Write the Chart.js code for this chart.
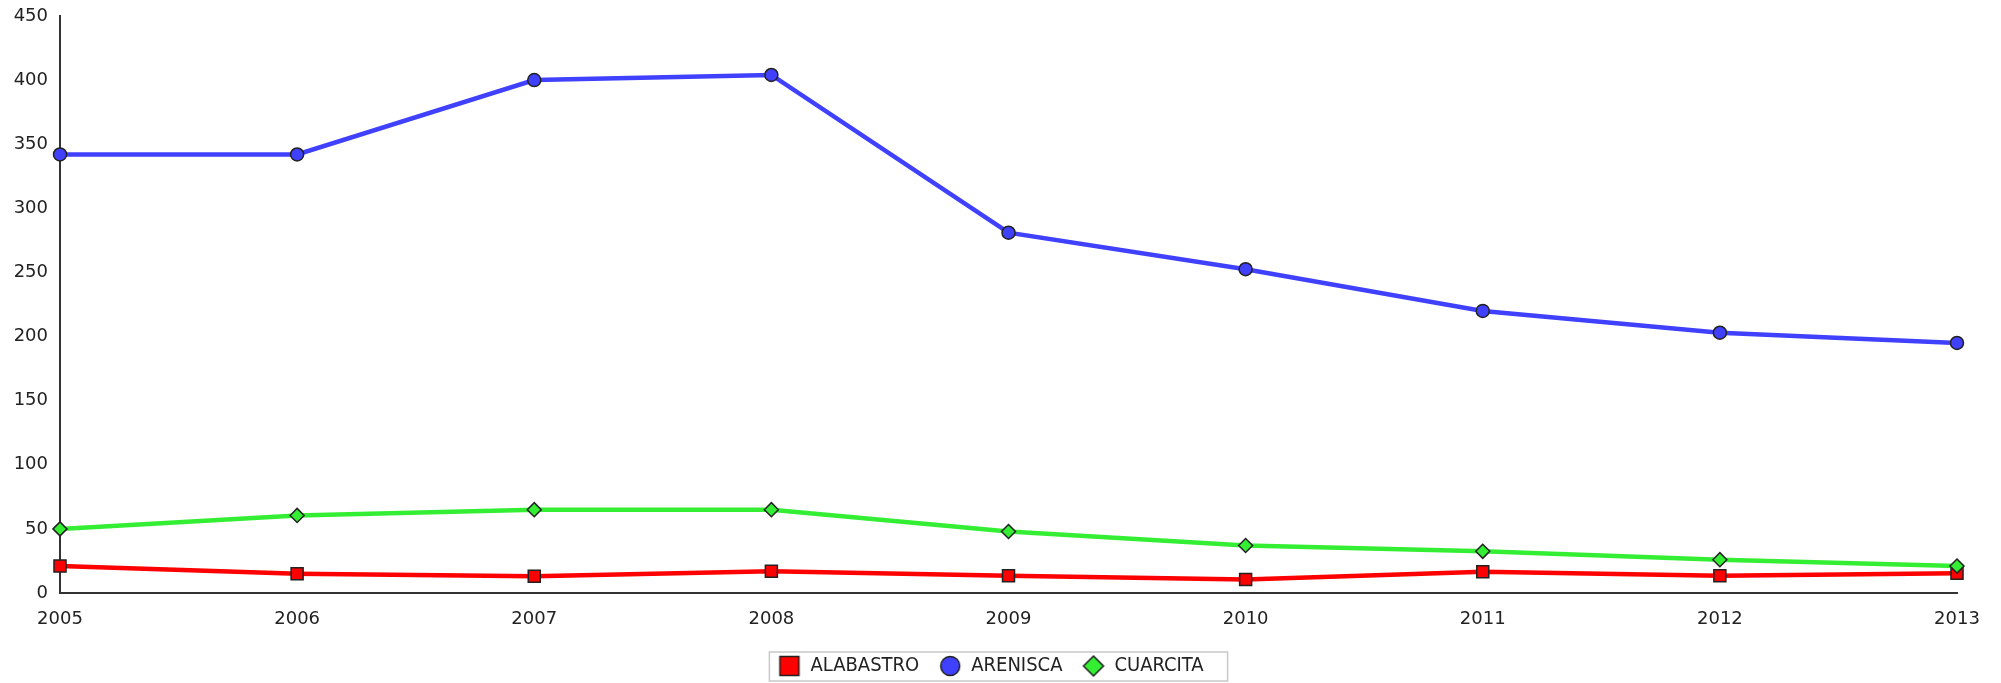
<!DOCTYPE html>
<html>
<head>
<meta charset="utf-8">
<script src="https://cdn.jsdelivr.net/npm/chart.js@4.4.0/dist/chart.umd.min.js"></script>
<style>
  html, body { margin: 0; padding: 0; background: #fff; }
  #wrap { width: 2001px; height: 683px; }
</style>
</head>
<body>
<div id="wrap"><canvas id="chart" width="2001" height="683"></canvas></div>
<script>
const years = ['2005', '2006', '2007', '2008', '2009', '2010', '2011', '2012', '2013'];
const alabastro = [21, 15, 13, 17, 13.5, 10.5, 16.5, 13.5, 15.5];
const arenisca = [342, 342, 400, 404, 281, 252.5, 220, 203, 195];
const cuarcita = [50, 60.5, 65, 65, 48, 37, 32.5, 26, 21];
const yMin = 0, yMax = 450, yStep = 50;

const RED = '#ff0000', BLUE = '#4040ff', GREEN = '#33ee33', EDGE = '#222';

// little canvases used as legend markers (bigger than the ones on the lines)
function marker(kind, fill) {
    const c = document.createElement('canvas');
    c.width = 24; c.height = 24;
    const g = c.getContext('2d');
    g.fillStyle = fill;
    g.strokeStyle = EDGE;
    g.lineWidth = 1.5;
    g.beginPath();
    if (kind === 'rect') g.rect(2.5, 2.5, 19, 19);
    else if (kind === 'circle') g.arc(12, 12, 9.5, 0, Math.PI * 2);
    else { g.moveTo(12, 2); g.lineTo(22, 12); g.lineTo(12, 22); g.lineTo(2, 12); g.closePath(); }
    g.fill();
    g.stroke();
    return c;
}
const legendMarkers = [marker('rect', RED), marker('circle', BLUE), marker('diamond', GREEN)];

const legendBorder = {
    id: 'legendBorder',
    afterDraw(chart) {
        const boxes = chart.legend && chart.legend.legendHitBoxes;
        if (!boxes || !boxes.length) return;
        const first = boxes[0], last = boxes[boxes.length - 1];
        const ctx = chart.ctx;
        ctx.save();
        ctx.strokeStyle = '#c8c8c8';
        ctx.lineWidth = 1.5;
        ctx.strokeRect(first.left - 9, first.top - 4, last.left + last.width - first.left + 33, first.height + 9);
        ctx.restore();
    }
};

new Chart(document.getElementById('chart'), {
    type: 'line',
    data: {
        labels: years,
        datasets: [
            { label: 'ALABASTRO', data: alabastro, borderColor: RED, backgroundColor: RED,
              pointBackgroundColor: RED, pointBorderColor: EDGE,
              pointStyle: 'rect', pointRadius: 8.5, order: 3 },
            { label: 'ARENISCA', data: arenisca, borderColor: BLUE, backgroundColor: BLUE,
              pointBackgroundColor: BLUE, pointBorderColor: EDGE,
              pointStyle: 'circle', pointRadius: 6.5, order: 2 },
            { label: 'CUARCITA', data: cuarcita, borderColor: GREEN, backgroundColor: GREEN,
              pointBackgroundColor: GREEN, pointBorderColor: EDGE,
              pointStyle: 'rectRot', pointRadius: 7, order: 1 }
        ]
    },
    options: {
        responsive: false,
        animation: false,
        // right padding kept small so the legend centres like the original;
        // the x axis asks for the extra room on its own (afterFit below)
        layout: { padding: { top: 16, right: 19, left: 0, bottom: -3 } },
        elements: {
            line: { borderWidth: 4.5, tension: 0, fill: false },
            point: { borderWidth: 1.5, hoverRadius: 7 }
        },
        scales: {
            x: {
                offset: false,
                grid: { display: false, drawTicks: false },
                border: { color: '#333', width: 2 },
                ticks: { color: '#222', padding: 16, maxRotation: 0, autoSkip: false,
                         font: { family: 'DejaVu Sans', size: 18 } },
                afterFit: (s) => { s.height = 43; s.paddingRight = 44; }
            },
            y: {
                min: yMin, max: yMax,
                grid: { display: false, drawTicks: false },
                border: { color: '#333', width: 2 },
                ticks: { stepSize: yStep, color: '#222', padding: 12,
                         font: { family: 'DejaVu Sans', size: 18 } },
                afterFit: (s) => { s.width = 60; s.paddingTop = 0; s.paddingBottom = 0; }
            }
        },
        plugins: {
            tooltip: { enabled: false },
            legend: {
                position: 'bottom',
                labels: {
                    usePointStyle: true,
                    pointStyleWidth: 22,
                    boxHeight: 20,
                    padding: 20,
                    color: '#222',
                    font: { family: 'DejaVu Sans Condensed', size: 20 },
                    sort: (a, b) => a.datasetIndex - b.datasetIndex,
                    generateLabels: (chart) => {
                        const items = Chart.defaults.plugins.legend.labels.generateLabels(chart);
                        items.forEach(it => { it.pointStyle = legendMarkers[it.datasetIndex]; });
                        return items;
                    }
                }
            }
        }
    },
    plugins: [legendBorder]
});
</script>
</body>
</html>
